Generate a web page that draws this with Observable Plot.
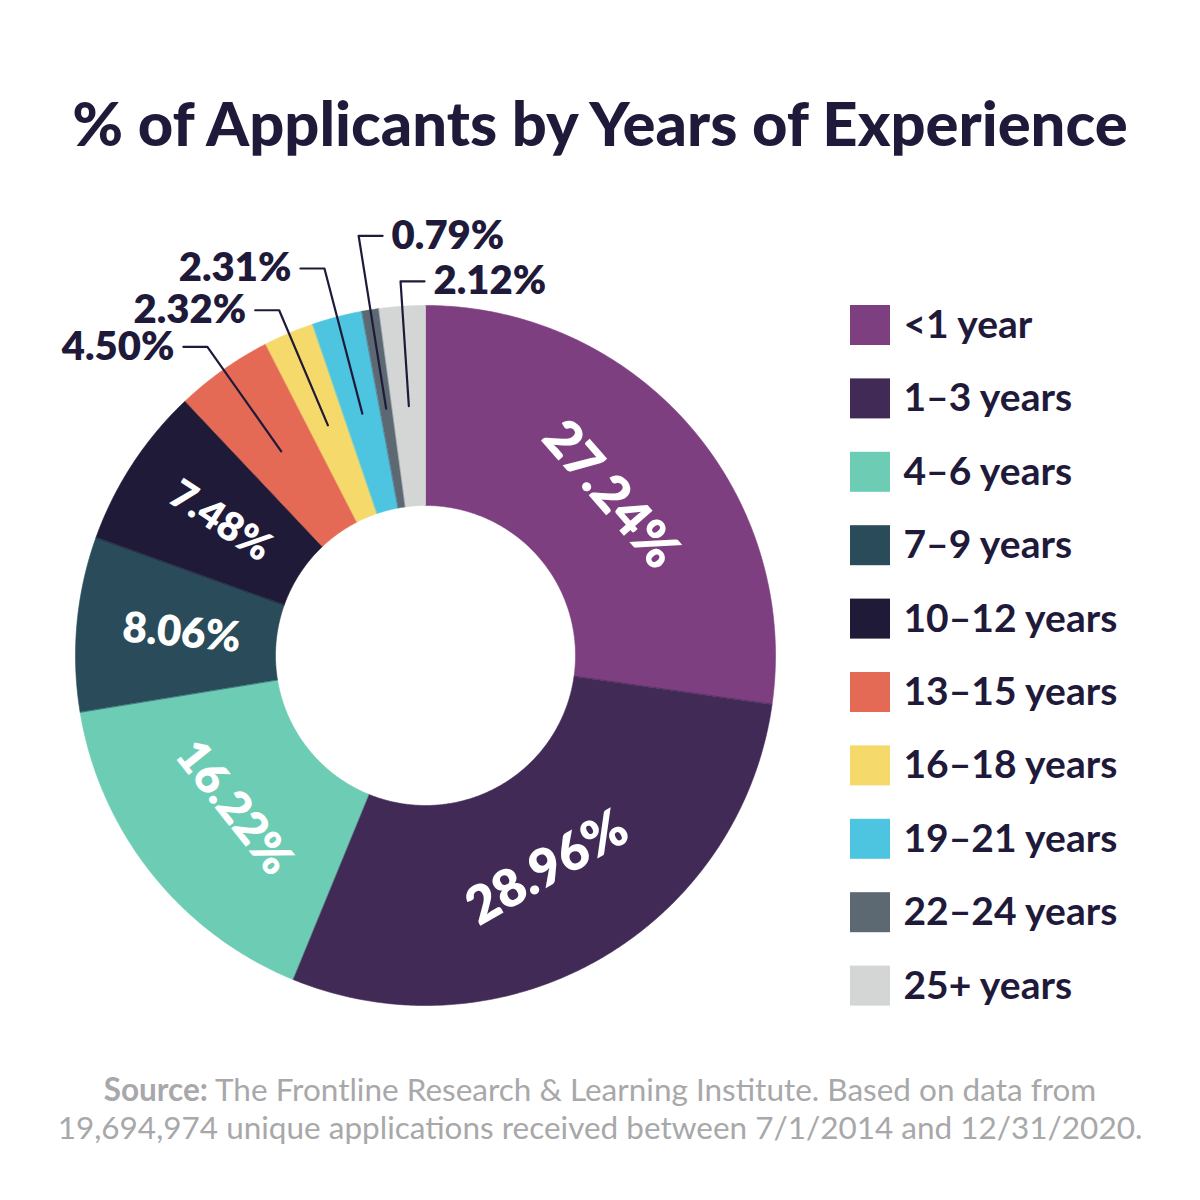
<!DOCTYPE html>
<html>
<head>
<meta charset="utf-8">
<script src="https://cdn.jsdelivr.net/npm/d3@7"></script>
<script src="https://cdn.jsdelivr.net/npm/@observablehq/plot@0.6"></script>
<style>
  html, body { margin: 0; padding: 0; background: #fff; }
  #wrap { position: relative; width: 1200px; height: 1200px; overflow: hidden; font-family: Lato, "Noto Sans", sans-serif; }
  #chart { position: absolute; left: 0; top: 0; }
  #title { position: absolute; left: 0; top: 85px; width: 1200px; text-align: center; font-size: 61.5px; line-height: 74px; font-weight: 900; color: #1f1a3a; white-space: nowrap; }
  #caption { position: absolute; left: 0; top: 1070px; width: 1200px; text-align: center; font-size: 31.5px; line-height: 38px; font-weight: 400; color: #a8a8aa; white-space: nowrap; }
  #caption b { font-weight: 700; }
</style>
</head>
<body>
<div id="wrap">
  <div id="chart"></div>
  <div id="title">% of Applicants by Years of Experience</div>
  <div id="caption"><b>Source:</b> The Frontline Research &amp; Learning Institute. Based on data from<br>19,694,974 unique applications received between 7/1/2014 and 12/31/2020.</div>
</div>
<script>
// ---- data ----
const categories = ["<1 year", "1–3 years", "4–6 years", "7–9 years", "10–12 years", "13–15 years", "16–18 years", "19–21 years", "22–24 years", "25+ years"];
const shares = [27.24, 28.96, 16.22, 8.06, 7.48, 4.50, 2.32, 2.31, 0.79, 2.12];
const colors = ["#7e3f80", "#412a56", "#6ccdb4", "#2a4b59", "#1e1a38", "#e46a55", "#f5da6b", "#4dc4e0", "#5c6872", "#d4d5d5"];

// ---- layout ----
const CX = 425, CY = 655, R_OUT = 350, R_IN = 150, R_LABEL = 245, R_LEAD = 250;
const INK = "#1f1a3a";
const insideCount = 5;                       // first five slices labelled inside
const insideSize = [52, 52, 46, 42, 40];
const calloutRadius = [378, 375, 400, 425, 375];
const calloutSide = [-1, -1, -1, 1, 1];
const LEG_X = 850, LEG_Y = 305, LEG_STEP = 73.4, LEG_SIZE = 40;

const fmt = v => d3.format(".2f")(v) + "%";
const px = (r, a) => CX + r * Math.sin(a);
const py = (r, a) => CY - r * Math.cos(a);

// slices from cumulative shares
const total = d3.sum(shares);
let cum = 0;
const slices = shares.map((v, i) => {
  const a0 = cum / total * 2 * Math.PI;
  cum += v;
  const a1 = cum / total * 2 * Math.PI;
  return {i, category: categories[i], value: v, a0, a1, mid: (a0 + a1) / 2};
});

const polyPts = slices.flatMap(s => {
  const n = Math.max(4, Math.ceil((s.a1 - s.a0) * 180 / Math.PI * 2));
  const pts = [];
  for (let k = 0; k <= n; k++) { const a = s.a0 + (s.a1 - s.a0) * k / n; pts.push({category: s.category, x: px(R_OUT, a), y: py(R_OUT, a)}); }
  for (let k = n; k >= 0; k--) { const a = s.a0 + (s.a1 - s.a0) * k / n; pts.push({category: s.category, x: px(R_IN, a), y: py(R_IN, a)}); }
  return pts;
});

// inside labels
const inside = slices.slice(0, insideCount).map((s, j) => {
  const deg = s.mid * 180 / Math.PI;
  let rot;
  if (s.value > 10) rot = (deg < 90 || deg > 270) ? deg : deg - 180; // tangential
  else rot = deg - 270;                                                // radial
  return {x: px(R_LABEL, s.mid), y: py(R_LABEL, s.mid), text: fmt(s.value), rotate: rot, size: insideSize[j]};
});

// callouts
const callouts = slices.slice(insideCount).map((s, j) => {
  const r = calloutRadius[j], side = calloutSide[j];
  const ex = px(r, s.mid), ey = py(r, s.mid);
  const hx = ex + side * 24;
  return {key: s.category, side, start: {x: px(R_LEAD, s.mid), y: py(R_LEAD, s.mid)}, elbow: {x: ex, y: ey}, end: {x: hx, y: ey}, tx: hx + side * 9, ty: ey, text: fmt(s.value)};
});
const leaderPts = callouts.flatMap(c => [
  {key: c.key, ...c.start}, {key: c.key, ...c.elbow}, {key: c.key, ...c.end}
]);

// legend
const legend = categories.map((c, i) => ({category: c, y1: LEG_Y + i * LEG_STEP, y2: LEG_Y + i * LEG_STEP + LEG_SIZE, yc: LEG_Y + i * LEG_STEP + LEG_SIZE / 2}));

const chart = Plot.plot({
  width: 1200, height: 1200, margin: 0,
  x: {domain: [0, 1200], range: [0, 1200], axis: null},
  y: {domain: [0, 1200], range: [0, 1200], axis: null},
  color: {domain: categories, range: colors},
  style: {fontFamily: "Lato, 'Noto Sans', sans-serif", background: "white"},
  marks: [
    Plot.line(polyPts, {x: "x", y: "y", z: "category", fill: "category", stroke: "category", strokeWidth: 0.6, curve: "linear-closed"}),
    Plot.text(inside, {x: "x", y: "y", text: "text", rotate: "rotate", fontSize: "size", fill: "white", fontWeight: 800}),
    Plot.line(leaderPts, {x: "x", y: "y", z: "key", stroke: INK, strokeWidth: 2.2, strokeLinejoin: "round", curve: "linear"}),
    Plot.text(callouts.filter(c => c.side < 0), {x: "tx", y: "ty", text: "text", textAnchor: "end", fontSize: 40, fontWeight: 800, fill: INK}),
    Plot.text(callouts.filter(c => c.side > 0), {x: "tx", y: "ty", text: "text", textAnchor: "start", fontSize: 40, fontWeight: 800, fill: INK}),
    Plot.rect(legend, {x1: () => LEG_X, x2: () => LEG_X + LEG_SIZE, y1: "y1", y2: "y2", fill: "category"}),
    Plot.text(legend, {x: () => LEG_X + 53, y: "yc", text: "category", textAnchor: "start", fontSize: 39, fontWeight: 700, fill: INK})
  ]
});
document.getElementById("chart").appendChild(chart);
</script>
</body>
</html>
